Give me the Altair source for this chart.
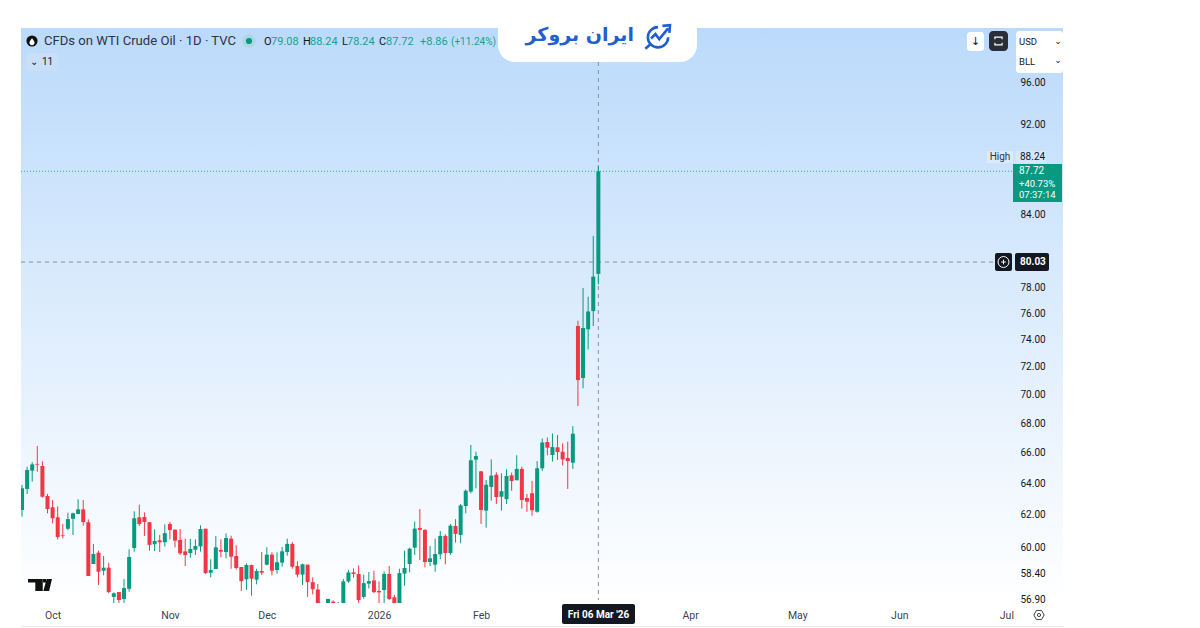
import altair as alt
import pandas as pd

opens = [62.29,63.63,64.82,65.26,65.12,63.18,62.46,61.83,60.71,61.12,
61.74,62.04,62.33,61.52,58.98,59.66,58.58,58.76,57.05,57.33,
56.93,57.52,59.94,61.83,61.85,61.52,60.17,60.41,60.29,61.41,
61.06,60.43,59.74,59.64,59.84,60.04,61.12,58.46,58.68,59.82,
59.70,60.51,59.46,58.80,58.07,58.92,58.05,58.56,58.94,59.54,
58.62,59.06,59.70,60.19,58.86,58.35,58.94,57.91,57.48,56.40,
56.53,56.78,56.38,56.40,57.95,58.48,58.39,57.05,57.82,58.01,
57.39,57.45,58.39,57.03,56.40,58.41,58.98,59.96,61.17,61.05,
59.10,58.94,59.56,60.68,59.64,61.29,60.74,62.54,63.46,65.54,
64.77,62.25,63.76,64.55,63.13,62.98,64.51,64.19,64.93,63.05,
63.35,62.18,64.97,66.72,65.85,66.36,66.07,65.65,65.34,75.02,
71.18,74.77,76.16,79.08]
closes = [63.67,64.86,65.23,65.21,63.13,62.35,61.77,60.61,60.67,61.72,
62.08,62.33,61.54,58.27,59.58,58.52,58.76,57.33,57.26,56.87,
57.56,59.40,61.77,61.41,61.54,60.13,60.37,60.29,60.85,61.04,
60.39,59.62,59.52,59.88,60.06,61.10,58.44,58.62,59.98,59.72,
60.55,59.42,58.74,57.97,58.92,58.11,58.56,58.46,59.54,58.58,
59.08,59.74,60.19,58.82,58.35,58.96,57.91,57.50,56.60,56.55,
56.93,56.45,56.57,57.95,58.48,58.39,56.87,57.85,57.97,57.33,
57.31,58.39,56.93,56.53,58.44,58.74,59.90,61.13,61.05,59.10,
59.32,59.58,60.68,59.64,61.31,60.80,62.58,63.51,65.50,65.78,
62.29,63.90,64.49,63.11,63.48,64.47,64.14,64.93,62.92,62.82,
62.27,64.97,66.69,66.34,66.38,66.05,65.56,65.45,67.28,71.03,
74.87,76.13,78.86,87.72]
highs = [63.89,65.08,65.37,66.45,65.43,63.31,62.92,62.52,61.41,62.12,
62.12,62.97,62.92,61.70,60.19,59.78,59.46,59.06,57.31,57.33,
58.09,59.86,62.21,62.63,62.14,61.54,61.08,60.73,61.39,61.54,
61.08,61.10,60.51,60.49,60.47,61.33,61.12,59.26,60.67,60.47,
60.83,60.69,60.11,58.80,59.02,58.94,58.70,59.70,59.98,59.68,
59.68,60.00,60.51,60.31,59.14,59.00,58.94,58.19,57.80,56.62,
56.95,56.85,56.76,58.09,58.62,58.72,58.90,58.35,58.50,58.58,
57.95,58.54,58.86,57.16,58.70,59.78,59.96,61.56,62.35,61.09,
60.06,60.51,60.98,60.78,61.42,61.71,62.67,63.60,66.52,66.07,
64.80,64.21,65.56,64.71,64.64,64.90,64.69,65.83,65.08,63.30,
64.14,65.45,66.96,67.03,67.30,67.19,66.63,66.74,67.80,75.42,
77.96,77.28,82.17,88.24]
lows = [61.87,63.31,64.10,64.75,63.07,62.08,61.45,60.47,60.53,61.04,
60.73,62.02,61.31,58.27,58.98,57.74,58.31,57.26,56.70,56.70,
56.70,57.35,59.72,61.29,60.67,59.78,59.76,59.70,60.03,60.47,
59.98,59.52,58.86,59.36,59.52,59.72,58.39,58.19,58.68,59.38,
59.32,58.70,58.66,57.39,57.45,57.12,57.78,58.33,58.90,58.31,
58.41,58.82,59.48,58.70,58.19,57.74,57.05,57.20,56.50,56.20,
56.40,56.20,56.30,56.30,57.87,58.17,56.57,56.95,57.54,57.26,
56.57,56.50,56.87,56.40,56.20,57.70,58.48,59.52,59.22,58.78,
58.86,58.52,59.26,58.96,59.52,60.27,60.23,62.08,63.35,63.67,
61.42,61.19,62.88,62.67,62.25,62.67,63.51,64.19,62.38,62.18,
61.93,62.12,64.80,65.83,65.41,65.52,65.15,63.63,64.93,69.19,
70.44,73.26,75.02,78.24]

price_ticks = [96, 92, 84, 78, 76, 74, 72, 70, 68, 66, 64, 62, 60, 58.4, 56.9]
month_days = [6, 29, 48, 70, 90, 131, 152, 172, 193]
month_names = ["Oct", "Nov", "Dec", "2026", "Feb", "Apr", "May", "Jun", "Jul"]
last_day = 113
last_close = 87.72
crosshair_price = 80.03

GREEN, RED = "#089981", "#F23645"
TEAL = "#1E9E8C"
TEXT = "#131722"
FONT = "Roboto"
L, T, W, H = 21, 28, 1042, 575

df = pd.DataFrame({"day": range(len(opens)), "open": opens, "close": closes,
                   "high": highs, "low": lows})
df["dir"] = ["up" if c >= o else "down" for o, c in zip(opens, closes)]

xs = alt.Scale(domain=[-0.196, 204.1], nice=False, zero=False, padding=0)
ys = alt.Scale(type="log", domain=[56.7, 101.39], nice=False, zero=False)
colors = alt.Scale(domain=["up", "down"], range=[GREEN, RED])
one = alt.Data(values=[{"a": 1}])


def box(x0, y0, x1, y1, fill, radius=0):
    return alt.Chart(one).mark_rect(fill=fill, cornerRadius=radius, clip=False).encode(
        x=alt.value(x0 - L), x2=alt.value(x1 - L), y=alt.value(y0 - T), y2=alt.value(y1 - T))


def label(x, y, s, color=TEXT, size=10, align="left", font=FONT, weight="normal"):
    return alt.Chart(one).mark_text(text=s, color=color, fontSize=size, align=align, baseline="middle",
                                    font=font, fontWeight=weight, clip=False).encode(
        x=alt.value(x - L), y=alt.value(y - T))


def glyph(x, y, path, size, fill=None, stroke=None, sw=1.5):
    kw = {"shape": path, "size": size, "opacity": 1, "clip": False}
    if fill:
        kw.update(fill=fill, filled=True)
    if stroke:
        kw.update(stroke=stroke, strokeWidth=sw, filled=False, fill="transparent")
    return alt.Chart(one).mark_point(**kw).encode(x=alt.value(x - L), y=alt.value(y - T))


background = alt.Chart(one).mark_rect(
    clip=False,
    fill=alt.Gradient(gradient="linear", x1=0, x2=0, y1=0, y2=1,
                      stops=[alt.GradientStop(color="#BBDAFB", offset=0),
                             alt.GradientStop(color="#FFFFFF", offset=1)])).encode(
    x=alt.value(0), x2=alt.value(W), y=alt.value(0), y2=alt.value(H))

base = alt.Chart(df)
x_axis = alt.Axis(values=month_days, title=None, grid=False, domain=False, ticks=False,
                  labelExpr=f"{month_names}[indexof({month_days}, datum.value)]",
                  labelColor="#3d4250", labelFont=FONT, labelFontSize=10.5, labelPadding=7,
                  labelOverlap=False, labelFlush=False)
y_axis = alt.Axis(values=price_ticks, orient="right", offset=-48, title=None, grid=False, domain=False,
                  ticks=False, format=".2f", labelColor=TEXT, labelFont=FONT, labelFontSize=10,
                  labelPadding=5, labelOverlap=False, labelFlush=False, labelAlign="left", zindex=1)

wicks = base.mark_rule(strokeWidth=1, clip=True).encode(
    x=alt.X("day:Q", scale=xs, axis=x_axis),
    y=alt.Y("low:Q", scale=ys, axis=y_axis),
    y2="high:Q",
    color=alt.Color("dir:N", scale=colors, legend=None))
bodies = base.mark_bar(size=4, clip=True).encode(
    x=alt.X("day:Q", scale=xs),
    y=alt.Y("open:Q", scale=ys),
    y2="close:Q",
    color=alt.Color("dir:N", scale=colors, legend=None))

vline = alt.Chart(alt.Data(values=[{"day": last_day}])).mark_rule(
    color="#8b8f9a", strokeWidth=1, strokeDash=[4, 4]).encode(
    x=alt.X("day:Q", scale=xs), y=alt.value(62 - T), y2=alt.value(600 - T))
hline = alt.Chart(alt.Data(values=[{"p": crosshair_price}])).mark_rule(
    color="#8b8f9a", strokeWidth=1, strokeDash=[4, 4]).encode(
    y=alt.Y("p:Q", scale=ys), x=alt.value(0), x2=alt.value(995 - L))
closeline = alt.Chart(alt.Data(values=[{"p": last_close}])).mark_rule(
    color=GREEN, strokeWidth=1, strokeDash=[1, 2], opacity=0.8).encode(
    y=alt.Y("p:Q", scale=ys), x=alt.value(0), x2=alt.value(1013 - L))

layers = [background, vline, hline, closeline, wicks, bodies]

# brand tab
layers += [
    alt.Chart(one).mark_rect(fill="white", clip=False, cornerRadiusBottomLeft=17,
                             cornerRadiusBottomRight=17).encode(
        x=alt.value(498 - L), x2=alt.value(697 - L), y=alt.value(26 - T), y2=alt.value(62 - T)),
    label(634, 35, "ایران بروکر", color="#1F5FCF", size=19, align="right", font="DejaVu Sans", weight="bold"),
    glyph(658, 36, "M 0.8 0.1 C 0.8 0.54 0.44 0.9 0 0.9 C -0.44 0.9 -0.8 0.54 -0.8 0.1 C -0.8 -0.34 -0.44 -0.7 0 -0.7 M -0.6 0.65 L -1 1 M -0.55 0.2 L -0.2 -0.15 L 0.1 0.25 L 0.8 -0.6 M 0.35 -0.8 L 0.95 -0.85 L 0.9 -0.25",
          640, stroke="#1F5FCF", sw=2.6),
]

# legend header
layers += [
    glyph(32, 41, "circle", 125, fill="#111111"),
    glyph(32, 41.5, "M 0 -1 C 0.7 -0.1 0.8 0.2 0.8 0.4 A 0.8 0.8 0 0 1 -0.8 0.4 C -0.8 0.2 -0.7 -0.1 0 -1 Z", 40, fill="white"),
    label(44, 41, "CFDs on WTI Crude Oil · 1D · TVC", color="#2e3340", size=13.1),
    glyph(249, 41, "circle", 170, fill="#ABD6E2"),
    glyph(249, 41, "circle", 38, fill=GREEN),
    label(264, 41.5, "O", color=TEXT, size=11),
    label(271, 41.5, "79.08", color=TEAL, size=11),
    label(303, 41.5, "H", color=TEXT, size=11),
    label(310, 41.5, "88.24", color=TEAL, size=11),
    label(342, 41.5, "L", color=TEXT, size=11),
    label(347, 41.5, "78.24", color=TEAL, size=11),
    label(379, 41.5, "C", color=TEXT, size=11),
    label(386, 41.5, "87.72", color=TEAL, size=11),
    label(420, 41.5, "+8.86", color=TEAL, size=11),
    label(451, 41.5, "(+11.24%)", color=TEAL, size=10),
    box(26, 53, 58, 71, "#C9DFF7", radius=3),
    label(30, 62, "⌄", color=TEXT, size=10, font="DejaVu Sans"),
    label(42, 62, "11", color=TEXT, size=10),
]

# top-right controls
layers += [
    box(967, 32, 984, 51, "white", radius=3),
    label(975.5, 41.5, "↓", color=TEXT, size=11, align="center", font="DejaVu Sans"),
    box(989, 31, 1008, 51, "#2A2E39", radius=4),
    glyph(998.5, 41, "M -0.55 -0.25 L -0.55 -0.6 L 0.55 -0.6 L 0.55 -0.25 M -0.55 0.25 L -0.55 0.6 L 0.55 0.6 L 0.55 0.25",
          170, stroke="white", sw=1.2),
    box(1016, 31, 1063, 73, "white", radius=3),
    label(1019, 42, "USD", size=9.5),
    label(1019, 62, "BLL", size=9.5),
    label(1058, 41, "⌄", size=9, align="center", font="DejaVu Sans"),
    label(1058, 60, "⌄", size=9, align="center", font="DejaVu Sans"),
]

# price-scale tags
layers += [
    box(987, 151, 1013, 163, "#DCEBFC"),
    label(1000, 157, "High", size=10, align="center", color="#2e3340"),
    box(1016, 151, 1046, 163, "#D7E8FB"),
    label(1020, 157, "88.24", size=10),
    box(1013, 164, 1062, 202, GREEN),
    label(1019, 171, "87.72", color="white", size=10),
    label(1019, 184, "+40.73%", color="white", size=9.5),
    label(1019, 195, "07:37:14", color="white", size=9.5),
    box(995, 253, 1012, 271, "#131722", radius=2),
    glyph(1003.5, 262, "circle", 120, stroke="white", sw=1),
    glyph(1003.5, 262, "M -0.6 0 L 0.6 0 M 0 -0.6 L 0 0.6", 60, stroke="white", sw=1),
    box(1015, 253, 1049, 271, "#131722", radius=2),
    label(1020, 262, "80.03", color="white", size=10, weight="bold"),
]

# bottom: time tag, gear, watermark, footer line
layers += [
    box(562, 604, 635, 624, "#131722", radius=2),
    label(598.5, 615, "Fri 06 Mar '26", color="white", size=10, align="center", weight="bold"),
    glyph(1039, 615, "M -0.9 0 L -0.45 -0.8 L 0.45 -0.8 L 0.9 0 L 0.45 0.8 L -0.45 0.8 Z", 130, stroke="#3d4250", sw=1),
    glyph(1039, 615, "circle", 10, stroke="#3d4250", sw=1),
    glyph(40, 585, "M -1 -0.5 L 0.23 -0.5 L 0.23 0.5 L -0.39 0.5 L -0.39 -0.2 L -1 -0.2 Z M 0.25 -0.5 L 0.5 -0.5 L 0.5 -0.2 L 0.25 -0.2 Z M 0.55 -0.5 L 1 -0.5 L 0.76 0.5 L 0.28 0.5 Z",
          576, fill="#111111"),
    box(L, 626, L + W, 627, "#E6E8EC"),
]

chart = alt.layer(*layers).properties(
    width=W, height=H,
    autosize=alt.AutoSizeParams(type="none"),
    padding={"left": 13, "top": 20, "right": 129, "bottom": 24},
    background="white",
).configure_view(stroke=None)

chart.save("out.html", embed_options={"renderer": "svg", "actions": False})
